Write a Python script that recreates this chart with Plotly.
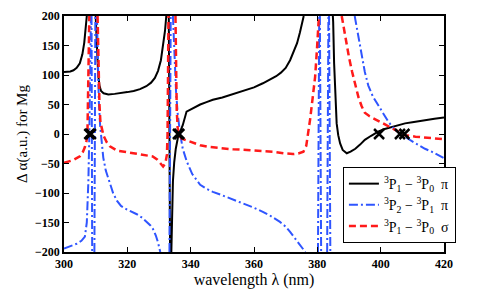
import plotly.graph_objects as go

N = None
# 3P1-3P0 pi (black solid)
black_wl = [300, 301, 302, 303, 304, 305, 305.8, 306.4, 306.9, 307.2, N,
            310.0, 310.4, 310.8, 311.2, 311.7, 312.5, 314, 316, 318, 320, 322, 324, 326, 327.5, 328.7, 329.7, 330.6, 331.3, 331.9, 332.3, N,
            333.1, 333.3, 333.5, N,
            333.9, 334.1, 334.4, 334.8, 335.3, 336, 336.6, 337.5, 338.7, 340, 341.5, 343, 345, 347, 350, 352.4, 355, 357.8, 360, 362.8, 365, 367, 368.5, 370, 371.4, 372.5, 373.6, 374.5, 375.2, 375.7, N,
            384.9, 385.0, 385.3, 385.6, 386.1, 386.6, 387.2, 388.0, 389.3, 390.5, 392, 393.5, 395, 397, 398.5, 399.2, 401, 403.5, 405.5, 407.7, 410, 414, 417, 420]
black_da = [105, 105, 106, 108, 112, 120, 135, 155, 180, 200, N,
            200, 140, 100, 82, 73, 69, 67, 68, 69, 71, 73, 76, 81, 87, 95, 107, 125, 148, 175, 200, N,
            200, 0, -200, N,
            -200, -130, -80, -48, -25, -5, 3, 15, 38, 42, 46, 50, 54, 58, 62, 66, 70, 75, 79, 86, 92, 98, 104, 112, 125, 138, 154, 172, 188, 200, N,
            200, 190, 120, 69, 18, -2, -16, -27, -32.7, -30, -25, -18, -10, -3, 2, 4, 8, 12, 15, 18, 20, 24, 26, 28]

# 3P2-3P1 pi (blue dash-dot)
blue_wl = [300, 302, 304, 305.5, 306.6, 307.2, 307.7, 308.0, 308.3, 308.5, N,
           308.7, 308.8, 308.9, N,
           309.6, 309.8, 309.9, N,
           310.4, 310.7, 311.0, 311.4, 311.9, 312.4, 313.2, 314.5, 315.5, 316.7, 318, 319.9, 321.5, 323, 324.7, 326.2, 327.3, 328.1, 329, 329.7, 330.3, 330.4, N,
           333.3, 333.5, 333.7, N,
           334.4, 334.7, 335, 335.4, 335.9, 336.6, 337.5, 338.8, 340.5, 343, 345, 347, 350, 352.4, 355, 357.8, 360, 362.8, 365, 368.2, 370, 371.4, 372.7, 374, 375, 376, 376.2, N,
           380.2, 380.4, 380.6, N,
           380.8, 381.0, 381.2, N,
           383.1, 383.3, 383.5, N,
           383.7, 383.9, 384.1, N,
           391.8, 392.8, 394, 395, 396.1, 397.5, 399.2, 400.8, 402.4, 404.5, 406, 407.7, 409.5, 411.9, 414, 416.1, 418, 420]
blue_da = [-194, -190, -186, -181, -174, -150, -80, 0, 100, 200, N,
           200, 0, -200, N,
           -200, 0, 200, N,
           200, 110, 55, 15, -15, -40, -62, -86, -100, -113, -122, -128, -132, -136, -142, -149, -155, -161, -172, -184, -197, -200, N,
           -200, 0, 200, N,
           200, 150, 110, 70, 35, 3, -25, -47, -68, -86, -93, -98, -104, -109, -114, -120, -125, -132, -138, -149, -157, -166, -175, -184, -191, -198, -200, N,
           -200, 0, 200, N,
           200, 0, -200, N,
           -200, 0, 200, N,
           200, 0, -200, N,
           200, 170, 135, 105, 82, 64, 49, 34, 21, 7, 1, -4.5, -11, -19, -25, -30, -36, -41]

# 3P1-3P0 sigma (red dashed)
red_wl = [300, 301.5, 303, 305, 306, 306.6, 307.1, 307.4, 307.6, 307.8, 308.0, N,
          310.6, 310.9, 311.2, 311.5, 311.9, 312.5, 313.5, 314.5, 316.7, 319.8, 322, 325, 328, 329.4, 330.3, 331.3, 332.0, 332.5, 332.7, 332.9, 333.0, N,
          335.2, 335.4, 335.6, 335.9, 336.4, 337.2, 338.8, 341, 343, 346, 349.3, 353.4, 357.8, 362, 366, 370, 372.3, 374, 375.6, 376.5, 377.1, 377.7, 378.5, 379.3, 379.9, 380.3, 380.5, N,
          387.7, 388.3, 389, 390, 391, 392, 393, 394, 395, 396.5, 398, 399.2, 401.5, 403.5, 405.5, 407.7, 411, 414, 417, 420]
red_da = [-49, -47, -44, -38, -30, -22, -12, 0, 50, 130, 200, N,
          200, 110, 50, 20, 10, -3, -14, -21, -28, -31, -33, -35, -38, -43, -49, -55, -50, -35, 0, 100, 200, N,
          200, 100, 40, 10, -3, -8, -11, -16, -19, -22, -24, -26, -27, -28, -30, -33, -34, -33, -30, -20, 0, 24, 60, 97, 145, 176, 200, N,
          200, 180, 158, 130, 105, 82, 62, 47, 36, 30, 26, 23, 16, 10, 4, -2, -4.5, -6, -7.5, -9]

# magic wavelengths (zero crossings)
magic_wl = [308.0, 308.5, 336.0, 336.4, 399.5, 406.1, 407.5]
magic_da = [0, 0, 0, 0, 0, 0, 0]

legend_names = ["<sup>3</sup>P<sub>1</sub> \u2212 <sup>3</sup>P<sub>0</sub>  \u03c0",
                "<sup>3</sup>P<sub>2</sub> \u2212 <sup>3</sup>P<sub>1</sub>  \u03c0",
                "<sup>3</sup>P<sub>1</sub> \u2212 <sup>3</sup>P<sub>0</sub>  \u03c3"]

x_ticks = [300, 320, 340, 360, 380, 400, 420]
y_ticks = [-200, -150, -100, -50, 0, 50, 100, 150, 200]

FONT = "Liberation Serif"

fig = go.Figure()
fig.add_trace(go.Scatter(x=black_wl, y=black_da, mode="lines", name=legend_names[0],
                         line=dict(color="black", width=2)))
fig.add_trace(go.Scatter(x=blue_wl, y=blue_da, mode="lines", name=legend_names[1],
                         line=dict(color="#2f55ff", width=2, dash="9px,3px,2px,3px")))
fig.add_trace(go.Scatter(x=red_wl, y=red_da, mode="lines", name=legend_names[2],
                         line=dict(color="#ff1a1a", width=2.5, dash="7px,4px")))
fig.add_trace(go.Scatter(x=magic_wl, y=magic_da, mode="markers", showlegend=False,
                         marker=dict(symbol="x-thin", size=10, color="black",
                                     line=dict(color="black", width=2.5))))

axis_common = dict(showline=True, linecolor="black", linewidth=1.5, mirror="ticks",
                   ticks="inside", ticklen=5, tickwidth=1, tickcolor="black",
                   showgrid=False, zeroline=False, automargin=False,
                   tickfont=dict(family=FONT, size=12, color="black", weight="bold"))

# page body has an 8px default margin, so the figure is sized 483x282
fig.update_layout(
    width=483, height=282,
    margin=dict(l=56, r=47, t=8, b=38),
    paper_bgcolor="white", plot_bgcolor="white",
    font=dict(family=FONT, color="black"),
    xaxis=dict(range=[300, 420], tickvals=x_ticks,
               title=dict(text="wavelength \u03bb (nm)", font=dict(family=FONT, size=16), standoff=2),
               **axis_common),
    yaxis=dict(range=[-200, 200], tickvals=y_ticks,
               title=dict(text="\u0394 \u03b1(a.u.) for Mg", font=dict(family=FONT, size=15), standoff=4),
               **axis_common),
    legend=dict(x=0.734, y=0.36, xanchor="left", yanchor="top",
                bgcolor="white", bordercolor="black", borderwidth=1,
                font=dict(family=FONT, size=14, color="black"),
                itemwidth=30, tracegroupgap=0),
    showlegend=True,
)

fig.write_html("out.html")
